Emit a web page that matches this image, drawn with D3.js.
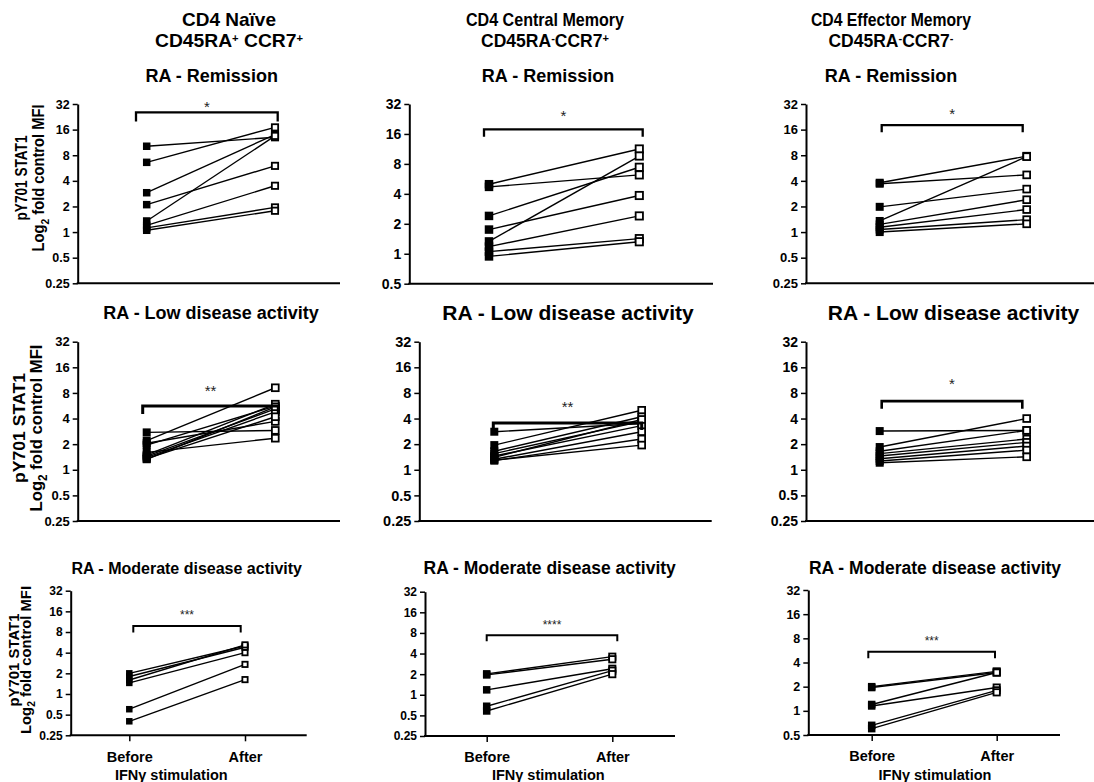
<!DOCTYPE html>
<html>
<head>
<meta charset="utf-8">
<script src="https://cdn.jsdelivr.net/npm/d3@7"></script>
<style>
body { margin: 0; background: #fff; }
svg { font-family: "Liberation Sans", Arial, sans-serif; }
</style>
</head>
<body>
<svg id="chart" width="1094" height="782"></svg>
<script>
"use strict";

// categories and labels
const groups = ["Before", "After"];
const yTicks = [0.25, 0.5, 1, 2, 4, 8, 16, 32];
const cellTypes = ["CD4 Naïve", "CD4 Central Memory", "CD4 Effector Memory"];
const phenotypes = [
    ["CD45RA", "+", " CCR7", "+"],
    ["CD45RA", "-", "CCR7", "+"],
    ["CD45RA", "-", "CCR7", "-"]
];
const diseaseStates = ["RA - Remission", "RA - Low disease activity", "RA - Moderate disease activity"];
const xTitle = "IFNγ stimulation";

// values (fold of control MFI), one pair per donor
const remNaiveBefore = [10.2, 6.6, 2.9, 2.1, 1.35, 1.2, 1.12, 1.05];
const remNaiveAfter  = [13.0, 17.0, 14.0, 6.0, 13.5, 3.5, 1.95, 1.78];
const remCmBefore = [5.0, 4.7, 2.4, 1.75, 1.33, 1.18, 1.05, 0.94];
const remCmAfter  = [11.3, 6.2, 7.4, 3.85, 9.6, 2.4, 1.42, 1.32];
const remEmBefore = [3.8, 3.7, 1.98, 1.35, 1.23, 1.14, 1.07, 1.0];
const remEmAfter  = [7.8, 4.7, 3.2, 7.7, 2.4, 1.84, 1.4, 1.25];

const lowNaiveBefore = [2.75, 2.2, 2.05, 1.95, 1.6, 1.5, 1.45, 1.4, 1.35, 1.33];
const lowNaiveAfter  = [2.9, 9.2, 3.7, 5.6, 2.35, 5.9, 5.2, 4.8, 4.2, 5.5];
const lowCmBefore = [2.8, 1.95, 1.65, 1.55, 1.45, 1.4, 1.33, 1.28, 1.3];
const lowCmAfter  = [3.5, 5.0, 4.2, 3.7, 3.3, 3.9, 2.8, 2.3, 1.95];
const lowEmBefore = [2.85, 1.85, 1.65, 1.55, 1.45, 1.35, 1.27, 1.21];
const lowEmAfter  = [2.9, 4.0, 2.9, 2.3, 2.1, 1.9, 1.7, 1.42];

const modNaiveBefore = [2.0, 1.8, 1.6, 1.45, 0.6, 0.4];
const modNaiveAfter  = [5.0, 4.8, 5.2, 4.0, 2.7, 1.62];
const modCmBefore = [2.02, 1.95, 1.18, 0.68, 0.58];
const modCmAfter  = [3.6, 3.3, 2.4, 2.25, 2.0];
const modEmBefore = [2.0, 1.95, 1.2, 1.15, 0.66, 0.6];
const modEmAfter  = [3.1, 3.0, 3.0, 1.95, 1.8, 1.7];

const significance = ["*", "*", "*", "**", "**", "*", "***", "****", "***"];

// panel geometry (pixels) - the original figure panels are not all the same size
const panels = [
    {before: remNaiveBefore, after: remNaiveAfter, axisX: 77.7, yTop: 104, yBot: 283.3, yMin: 0.25, xEnd: 340, xB: 146.7, xA: 275, tickFs: 12.5, bracket: 25.5, bl: -10.7, br: 2.7, drop: 9, bw: 2.3, starDy: 8.7, starFs: 15, ms: 7.5, tx: 211.7, ty: 81.5, tfs: 18},
    {before: remCmBefore, after: remCmAfter, axisX: 409.3, yTop: 104, yBot: 283.7, yMin: 0.5, xEnd: 713, xB: 489, xA: 639.3, tickFs: 14, bracket: 17.8, bl: -5, br: 3.4, drop: 7.4, bw: 2.3, starDy: 16.6, starFs: 15, ms: 8.5, tx: 548, ty: 81.5, tfs: 18},
    {before: remEmBefore, after: remEmAfter, axisX: 806, yTop: 104, yBot: 283.3, yMin: 0.25, xEnd: 1094, xB: 879.7, xA: 1026.7, tickFs: 13, bracket: 18.1, bl: 2, br: -4, drop: 7.3, bw: 2.3, starDy: 15, starFs: 15, ms: 8, tx: 891, ty: 81.5, tfs: 18},
    {before: lowNaiveBefore, after: lowNaiveAfter, axisX: 77.7, yTop: 341.7, yBot: 521, yMin: 0.25, xEnd: 340, xB: 146.7, xA: 275.3, tickFs: 13, bracket: 5.6, bl: -4, br: 3, drop: 8, bw: 3, starDy: 18.3, starFs: 15, ms: 8, tx: 211, ty: 318.5, tfs: 18},
    {before: lowCmBefore, after: lowCmAfter, axisX: 419.3, yTop: 341.7, yBot: 521, yMin: 0.25, xEnd: 711.7, xB: 494.3, xA: 641.7, tickFs: 14.5, bracket: 3.55, bl: -1, br: 0, drop: 7, bw: 3, starDy: 19.4, starFs: 15, ms: 8, tx: 568, ty: 320, tfs: 21},
    {before: lowEmBefore, after: lowEmAfter, axisX: 806, yTop: 341.7, yBot: 521, yMin: 0.25, xEnd: 1094, xB: 879.7, xA: 1026.7, tickFs: 14, bracket: 6.4, bl: 2, br: -4.4, drop: 7.6, bw: 2.6, starDy: 20.7, starFs: 15, ms: 8, tx: 953.5, ty: 320, tfs: 21},
    {before: modNaiveBefore, after: modNaiveAfter, axisX: 70.7, yTop: 590.7, yBot: 735.3, yMin: 0.25, xEnd: 306.7, xB: 129.3, xA: 245, tickFs: 12, bracket: 9.8, bl: 4, br: -4.3, drop: 6.6, bw: 2, starDy: 13.4, starFs: 12, ms: 6.5, tx: 186.7, ty: 573.5, tfs: 16, lx: 171.3},
    {before: modCmBefore, after: modCmAfter, axisX: 425, yTop: 591.7, yBot: 736, yMin: 0.25, xEnd: 675, xB: 486.7, xA: 612.3, tickFs: 12, bracket: 7.4, bl: 0, br: 5, drop: 6, bw: 2, starDy: 13.3, starFs: 12, ms: 7.5, tx: 549.7, ty: 574, tfs: 17.5, lx: 548.3},
    {before: modEmBefore, after: modEmAfter, axisX: 808.3, yTop: 590, yBot: 735, yMin: 0.5, xEnd: 1060, xB: 871.7, xA: 996.7, tickFs: 12.5, bracket: 5.45, bl: -3.4, br: -1.7, drop: 6.6, bw: 2, starDy: 13.4, starFs: 12, ms: 7.5, tx: 935, ty: 574, tfs: 17.5, lx: 935}
];

// header layout: the middle and right headers are set narrower in the figure
const headers = [
    {x: 229, w1: null, w2: 148, fs2: 19},
    {x: 545, w1: 158, w2: null, fs2: 17.5},
    {x: 891, w1: 160, w2: null, fs2: 17.5}
];
const yLabelPos = [
    {cy: 178, x1: 27, x2: 44, fs: 16, len1: 85, len2: 147},
    {cy: 428, x1: 25, x2: 41.5, fs: 17, len1: 110, len2: 167},
    {cy: 660, x1: 18.7, x2: 31, fs: 14.5, len1: 93, len2: 148}
];

const svg = d3.select("#chart");

// column headers
cellTypes.forEach(function(name, c) {
    let h = headers[c];
    let t1 = svg.append("text")
        .attr("x", h.x).attr("y", 25.5)
        .attr("text-anchor", "middle")
        .attr("font-size", 19).attr("font-weight", "bold")
        .text(name);
    if (h.w1) t1.attr("textLength", h.w1).attr("lengthAdjust", "spacingAndGlyphs");
    let ph = phenotypes[c];
    let t = svg.append("text")
        .attr("x", h.x).attr("y", 46.5)
        .attr("text-anchor", "middle")
        .attr("font-size", h.fs2).attr("font-weight", "bold");
    if (h.w2) t.attr("textLength", h.w2).attr("lengthAdjust", "spacingAndGlyphs");
    t.append("tspan").text(ph[0]);
    t.append("tspan").attr("font-size", 11).attr("dy", -5).text(ph[1]);
    t.append("tspan").attr("dy", 5).text(ph[2]);
    t.append("tspan").attr("font-size", 11).attr("dy", -5).text(ph[3]);
});

// y axis titles on the first column
yLabelPos.forEach(function(p) {
    svg.append("text")
        .attr("transform", `translate(${p.x1},${p.cy}) rotate(-90)`)
        .attr("text-anchor", "middle")
        .attr("font-size", p.fs).attr("font-weight", "bold")
        .attr("textLength", p.len1).attr("lengthAdjust", "spacingAndGlyphs")
        .text("pY701 STAT1");
    let t = svg.append("text")
        .attr("transform", `translate(${p.x2},${p.cy}) rotate(-90)`)
        .attr("text-anchor", "middle")
        .attr("font-size", p.fs).attr("font-weight", "bold")
        .attr("textLength", p.len2).attr("lengthAdjust", "spacingAndGlyphs");
    let sub = p.fs * 0.7;
    t.append("tspan").text("Log");
    t.append("tspan").attr("font-size", sub).attr("dy", p.fs * 0.3).text("2");
    t.append("tspan").attr("dy", -p.fs * 0.3).text(" fold control MFI");
});

function drawPanel(p, i) {
    const row = Math.floor(i / 3);
    const g = svg.append("g");

    const y = d3.scaleLog().base(2).domain([p.yMin, 32]).range([p.yBot, p.yTop]);
    const x = d3.scalePoint().domain(groups).range([p.xB, p.xA]);

    // title
    g.append("text")
        .attr("x", p.tx).attr("y", p.ty)
        .attr("text-anchor", "middle")
        .attr("font-size", p.tfs).attr("font-weight", "bold")
        .text(diseaseStates[row]);

    // y axis
    const yAxis = d3.axisLeft(y)
        .tickValues(yTicks.filter(t => t >= p.yMin))
        .tickFormat(d => d)
        .tickSize(5).tickSizeOuter(0).tickPadding(3);
    const ya = g.append("g")
        .attr("transform", `translate(${p.axisX},0)`)
        .call(yAxis);
    ya.select(".domain").attr("stroke", "#000").attr("stroke-width", 2);
    ya.selectAll(".tick line").attr("stroke", "#000").attr("stroke-width", 1.5);
    ya.selectAll(".tick text")
        .attr("font-family", "'Liberation Sans', Arial, sans-serif")
        .attr("font-size", p.tickFs).attr("font-weight", "bold").attr("fill", "#000");

    // x axis line
    g.append("line")
        .attr("x1", p.axisX - 1).attr("x2", p.xEnd)
        .attr("y1", p.yBot).attr("y2", p.yBot)
        .attr("stroke", "#000").attr("stroke-width", 2);

    if (row === 2) {
        const xAxis = d3.axisBottom(x).tickSize(6).tickSizeOuter(0).tickPadding(10);
        const xa = g.append("g")
            .attr("transform", `translate(0,${p.yBot})`)
            .call(xAxis);
        xa.select(".domain").remove();
        xa.selectAll(".tick line").attr("stroke", "#000").attr("stroke-width", 1.5);
        xa.selectAll(".tick text")
            .attr("font-family", "'Liberation Sans', Arial, sans-serif")
            .attr("font-size", 14.5).attr("font-weight", "bold").attr("fill", "#000");
        g.append("text")
            .attr("x", p.lx).attr("y", 780)
            .attr("text-anchor", "middle")
            .attr("font-size", 14.5).attr("font-weight", "bold")
            .text(xTitle);
    }

    // paired lines
    const pairs = p.before.map((b, k) => ({before: b, after: p.after[k]}));
    g.selectAll("line.pair")
        .data(pairs)
        .join("line")
        .attr("class", "pair")
        .attr("x1", x("Before")).attr("x2", x("After"))
        .attr("y1", d => y(d.before)).attr("y2", d => y(d.after))
        .attr("stroke", "#000").attr("stroke-width", 1.4);

    // before: filled squares
    g.selectAll("rect.before")
        .data(pairs)
        .join("rect")
        .attr("class", "before")
        .attr("x", x("Before") - p.ms / 2)
        .attr("y", d => y(d.before) - p.ms / 2)
        .attr("width", p.ms).attr("height", p.ms)
        .attr("fill", "#000");

    // after: open squares
    const s = p.ms - 1.2;
    g.selectAll("rect.after")
        .data(pairs)
        .join("rect")
        .attr("class", "after")
        .attr("x", x("After") - s / 2)
        .attr("y", d => y(d.after) - s / 2)
        .attr("width", s).attr("height", s)
        .attr("fill", "#fff").attr("stroke", "#000").attr("stroke-width", 1.8);

    // significance bracket
    const by = y(p.bracket);
    const x0 = x("Before") + p.bl, x1 = x("After") + p.br;
    g.append("path")
        .attr("d", `M${x0},${by + p.drop}V${by}H${x1}V${by + p.drop}`)
        .attr("fill", "none").attr("stroke", "#000").attr("stroke-width", p.bw);
    g.append("text")
        .attr("x", (x0 + x1) / 2)
        .attr("y", by - p.starDy + 0.57 * p.starFs)
        .attr("text-anchor", "middle")
        .attr("font-size", p.starFs).attr("fill", "#222")
        .text(significance[i]);
}

panels.forEach(drawPanel);
</script>
</body>
</html>
